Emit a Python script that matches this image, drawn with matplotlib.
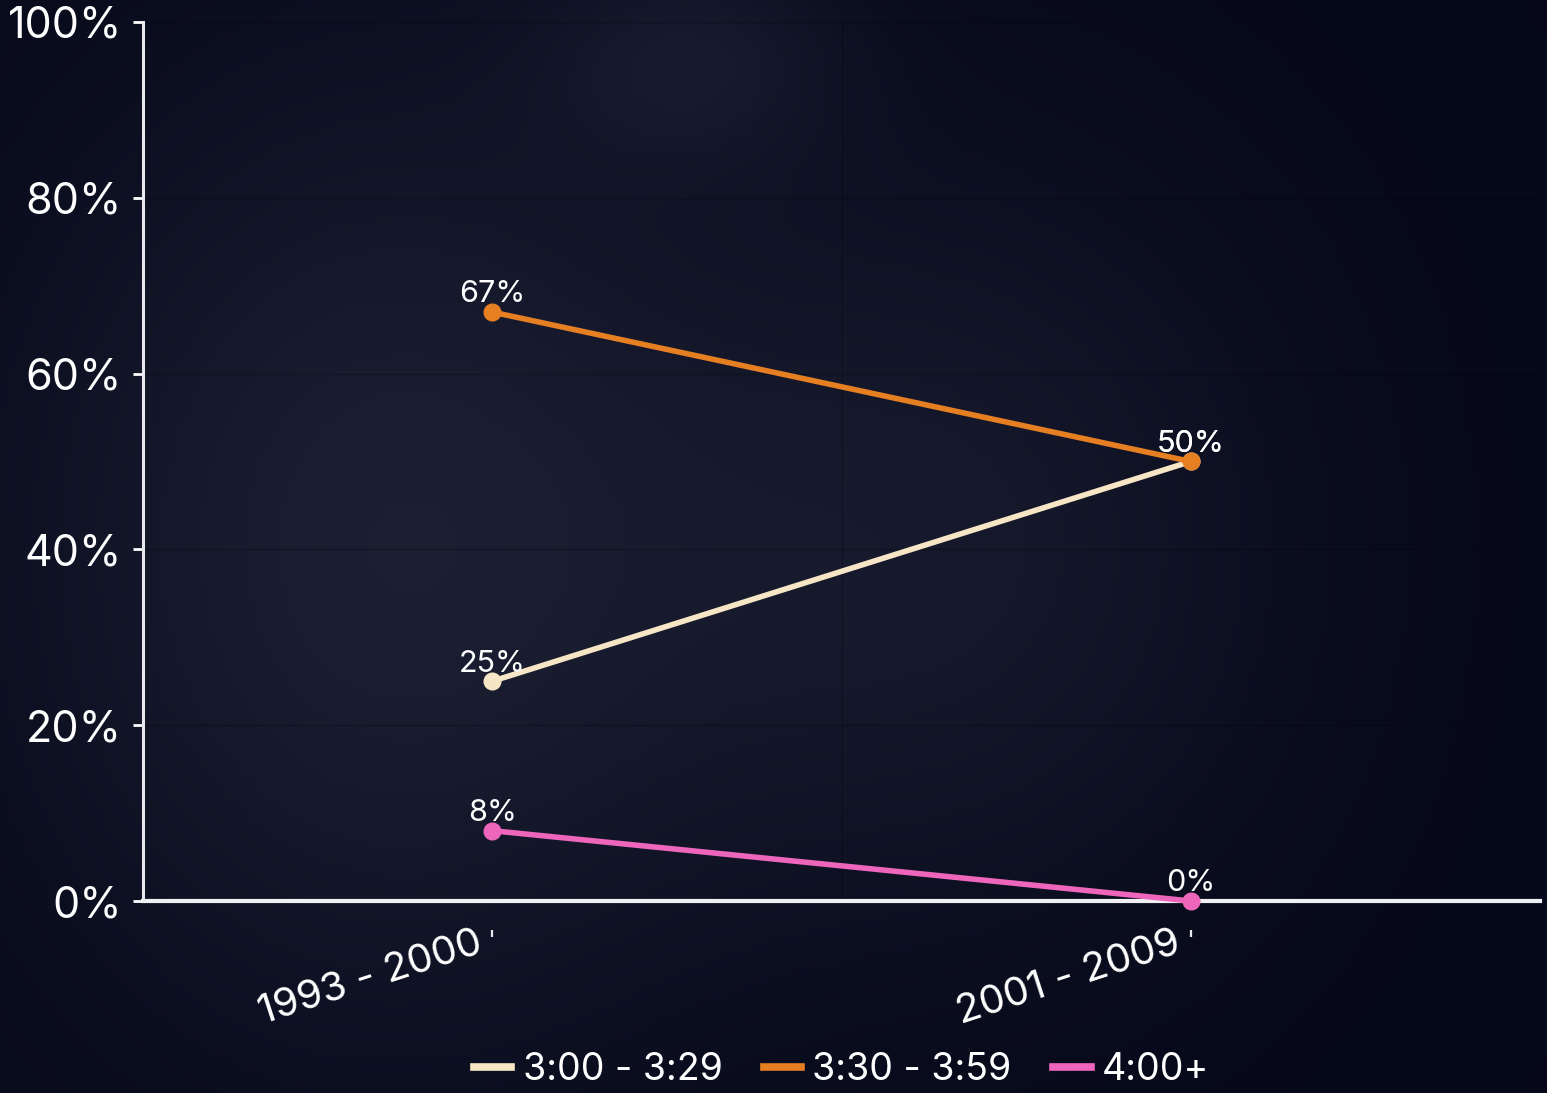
import matplotlib
matplotlib.use("Agg")
import matplotlib.pyplot as plt
import numpy as np
from matplotlib.ticker import FuncFormatter, FixedLocator
from matplotlib.lines import Line2D

plt.rcParams['font.family'] = ['Inter', 'DejaVu Sans']

categories = ["1993 - 2000", "2001 - 2009"]
series_names = ["3:00 - 3:29", "3:30 - 3:59", "4:00+"]
series_values = {
    "3:00 - 3:29": [25, 50],
    "3:30 - 3:59": [67, 50],
    "4:00+": [8, 0],
}
series_colors = {
    "3:00 - 3:29": "#f7e6c6",
    "3:30 - 3:59": "#e67e22",
    "4:00+": "#ee66bb",
}
y_ticks = [0, 20, 40, 60, 80, 100]

W, H = 1547, 1093
fig = plt.figure(figsize=(W / 100, H / 100), dpi=100)

# background gradient
bg = fig.add_axes([0, 0, 1, 1])
bg.set_axis_off()
xx = np.linspace(0, 1, 300)
yy = np.linspace(0, 1, 200)
X, Y = np.meshgrid(xx, yy)
base = np.array([0.025, 0.035, 0.10])
light = np.array([0.17, 0.19, 0.27])
glow = 0.55 * np.exp(-((X - 0.25) ** 2) / 0.06 - ((Y - 0.5) ** 2) / 0.2)
glow += 0.45 * np.exp(-((X - 0.65) ** 2) / 0.05 - ((Y - 0.5) ** 2) / 0.12)
glow += 0.35 * np.exp(-((X - 0.45) ** 2) / 0.01 - ((Y - 0.05) ** 2) / 0.01)
glow *= (1 - 0.7 * X ** 3)
glow = np.clip(glow, 0, 1)
img = base[None, None, :] + (light - base)[None, None, :] * glow[:, :, None]
bg.imshow(img, aspect='auto', extent=[0, 1, 0, 1], origin='upper')
bg.set_xlim(0, 1)
bg.set_ylim(0, 1)

ax = fig.add_axes([143 / W, 1 - 901 / H, (1540 - 143) / W, (901 - 22) / H])
ax.patch.set_alpha(0)

x = np.arange(len(categories))
for name in series_names:
    vals = series_values[name]
    c = series_colors[name]
    ax.plot(x, vals, color=c, lw=4.0, marker='o', ms=12, zorder=4, clip_on=False,
            solid_capstyle='round')
    for xi, v in zip(x, vals):
        ax.annotate(f"{v}%", (xi, v), xytext=(0, 7), textcoords='offset points',
                    ha='center', va='baseline', color='white', fontsize=22, zorder=5)

ax.set_xlim(-0.5, 1.5)
ax.set_ylim(0, 100)
ax.set_yticks(y_ticks)
ax.yaxis.set_major_formatter(FuncFormatter(lambda v, p: f"{int(v)}%"))
ax.set_xticks(x)
ax.set_xticklabels([])
ax.xaxis.set_minor_locator(FixedLocator([0.5]))

# category labels, rotated, ending just left of the category position
for xi, cat in zip(x, categories):
    ax.annotate(cat, (xi, 0), xycoords=ax.get_xaxis_transform(),
                xytext=(-17, -23), textcoords='offset pixels',
                rotation=18, rotation_mode='anchor', ha='right', va='top',
                color='white', fontsize=29, annotation_clip=False)

ax.tick_params(axis='y', colors='white', labelsize=31, length=7, width=2, pad=8,
               labelcolor='white')
ax.tick_params(axis='x', which='both', length=0)

# small detached tick marks below the axis
sec = ax.secondary_xaxis(-29 / 879)
sec.set_xticks(x)
sec.set_xticklabels([])
sec.tick_params(axis='x', colors='#e8e8ee', length=5, width=1.6)
for s in sec.spines.values():
    s.set_visible(False)

for s in ['top', 'right']:
    ax.spines[s].set_visible(False)
ax.spines['left'].set_color('#e8e8ee')
ax.spines['left'].set_linewidth(2.2)
ax.spines['bottom'].set_color('#f0f0f4')
ax.spines['bottom'].set_linewidth(3)
ax.spines['bottom'].set_zorder(3)

ax.grid(True, axis='y', color='#000000', alpha=0.25, lw=1)
ax.grid(True, axis='x', which='minor', color='#000000', alpha=0.2, lw=1)
ax.set_axisbelow(True)

handles = [Line2D([0], [0], color=series_colors[n], lw=5.5) for n in series_names]
fig.legend(handles, series_names, loc='center',
           bbox_to_anchor=(((143 + 1540) / 2) / W, 1 - 1070 / H),
           ncol=3, frameon=False, fontsize=27, labelcolor='white',
           handlelength=1.0, handletextpad=0.3, columnspacing=1.1)

fig.savefig("out.png", dpi=100, facecolor='#0a0f24')
